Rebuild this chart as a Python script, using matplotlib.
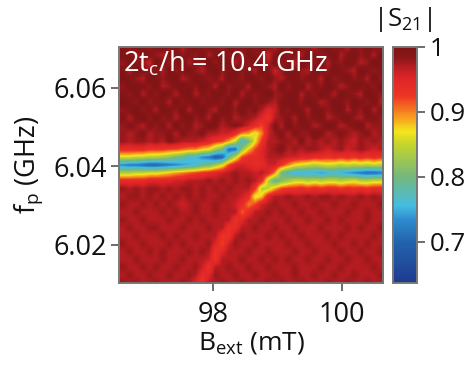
import numpy as np
import matplotlib
matplotlib.use("Agg")
import matplotlib.pyplot as plt
from matplotlib.colors import LinearSegmentedColormap

W, H = 477, 370
plt.rcParams['font.family'] = ['Open Sans', 'DejaVu Sans']

x_limits = [96.55, 100.63]
y_limits = [6.0103, 6.0704]
x_ticks = [98, 100]
y_ticks = [6.02, 6.04, 6.06]
y_tick_labels = ['6.02', '6.04', '6.06']
cbar_ticks = [0.7, 0.8, 0.9, 1.0]
cbar_tick_labels = ['0.7', '0.8', '0.9', '1']
v_limits = [0.636, 1.0]

# |S21| in hundredths, read row by row from the top of the plot (40 columns)
s21_rows = [
[99,98,100,99,98,99,100,98,99,97,99,100,98,99,99,97,100,98,99,99,98,100,99,97,99,98,100,99,98,97,99,100,98,99,97,99,98,100,99,98],
[100,99,97,100,99,98,97,99,100,98,99,98,100,97,99,100,98,99,97,100,99,98,96,99,100,98,99,97,100,99,98,99,100,97,99,100,98,99,97,100],
[98,100,99,98,96,100,99,98,99,100,97,99,98,100,98,99,100,97,99,98,100,99,97,100,98,99,97,100,99,98,100,97,99,98,100,99,97,98,100,99],
[99,97,100,99,98,99,97,100,98,99,100,98,97,99,100,98,99,100,98,99,97,100,99,96,98,100,99,98,97,100,99,98,100,99,98,97,100,99,98,99],
[100,99,98,97,100,99,98,99,100,97,98,100,99,98,99,97,100,99,98,100,99,98,100,98,97,99,100,98,99,99,97,100,98,99,100,98,99,97,100,98],
[98,100,99,99,98,100,97,98,99,100,99,98,100,99,97,100,98,99,99,97,100,99,98,97,100,98,99,100,97,99,98,100,99,97,98,100,99,99,98,100],
[99,98,100,97,99,98,100,99,97,99,100,97,99,98,100,99,98,100,97,99,98,99,100,98,98,99,100,97,99,98,100,99,97,100,99,98,97,100,99,98],
[100,99,98,100,98,99,99,97,100,98,99,100,98,99,99,98,100,97,99,100,98,99,98,97,99,100,99,98,100,99,97,98,100,99,98,100,99,98,100,97],
[98,99,100,98,99,97,100,99,98,100,97,99,100,98,97,100,99,98,100,98,99,97,95,96,99,98,100,99,97,100,99,98,99,100,97,99,98,100,97,99],
[99,97,99,100,98,100,98,99,97,99,100,98,99,97,100,98,99,97,98,98,97,95,93,97,98,99,97,100,98,99,100,97,98,99,100,98,97,99,99,98],
[98,99,98,97,99,98,99,97,100,98,99,97,98,100,99,97,98,99,98,96,94,92,96,99,97,100,98,99,99,97,98,100,99,97,98,99,100,97,98,98],
[98,97,98,99,97,98,98,99,97,99,98,98,99,97,97,96,96,94,90,89,86,90,96,98,99,97,99,98,98,100,99,97,98,99,98,97,98,99,97,98],
[98,97,98,98,97,98,97,99,98,97,97,97,96,95,93,92,89,85,75,80,87,93,97,97,98,98,97,99,97,98,97,98,97,98,97,96,98,97,98,97],
[94,94,94,94,93,93,93,92,92,91,90,90,88,87,83,80,71,71,82,88,92,95,97,98,99,97,98,97,98,98,97,96,97,98,96,97,98,97,96,97],
[86,86,85,85,84,84,83,82,80,79,76,76,73,72,69,70,79,85,92,94,94,95,97,97,97,96,96,95,95,94,94,93,94,93,94,93,94,93,94,93],
[73,72,72,71,70,70,71,72,73,74,75,76,79,80,83,86,92,95,96,95,94,94,96,96,93,90,87,86,85,84,85,86,85,84,85,84,85,84,85,84],
[84,84,85,85,86,86,87,88,89,90,91,92,93,94,95,96,97,98,97,97,96,97,95,90,80,77,75,75,75,75,74,75,76,75,74,73,72,71,71,72],
[94,94,94,94,95,95,95,95,96,96,97,97,97,98,97,98,97,98,97,98,97,94,84,78,81,83,85,85,84,85,84,85,85,84,85,86,84,84,85,85],
[98,97,98,97,98,98,97,98,97,98,98,97,98,97,98,97,98,97,97,97,93,84,85,89,92,93,93,94,93,94,93,94,94,93,94,93,94,93,94,94],
[97,98,98,97,98,97,98,97,98,97,98,97,98,97,97,98,97,97,96,94,86,88,95,97,97,98,97,97,98,97,98,98,97,98,97,97,98,97,98,97],
[98,97,97,98,97,98,97,98,97,96,97,98,97,97,98,97,97,96,94,90,92,96,97,98,97,97,98,97,97,98,97,97,98,97,97,98,97,97,97,98],
[97,97,98,97,97,97,98,97,98,97,97,98,97,97,98,97,97,97,91,94,97,97,98,97,98,97,97,98,97,97,98,97,97,97,98,97,97,98,97,97],
[98,97,97,98,97,97,97,98,97,97,98,97,98,97,97,97,97,93,95,97,97,98,97,97,97,98,97,97,98,97,97,98,97,98,97,97,97,98,97,97],
[97,98,97,97,98,98,97,97,97,98,97,97,97,98,97,97,93,94,97,97,98,97,97,98,97,97,98,97,97,97,98,97,97,97,98,97,98,97,97,98],
[97,97,98,97,97,97,98,97,98,97,97,98,97,97,97,93,93,97,98,97,97,97,98,97,98,97,97,98,97,97,97,98,97,98,97,97,97,97,98,97],
[98,97,97,98,97,97,97,98,97,98,97,97,97,98,95,92,96,98,97,97,98,97,97,97,97,98,97,97,98,97,97,97,98,97,97,98,97,98,97,97],
[97,98,97,97,98,97,98,97,97,97,98,97,98,97,93,95,97,97,97,98,97,97,98,97,97,97,98,97,97,98,97,97,97,98,97,97,98,97,97,98],
[97,97,98,97,97,97,98,97,97,98,97,97,97,96,93,97,97,97,98,97,97,98,97,98,97,98,97,97,98,97,97,98,97,97,98,97,97,98,97,97],
[98,97,97,98,97,98,97,97,98,97,97,98,96,93,97,97,98,97,97,98,97,97,98,97,97,97,98,97,97,97,98,97,97,98,97,97,97,97,98,97],
[97,98,97,97,98,97,97,98,97,97,98,97,94,95,98,97,97,98,97,97,98,97,97,98,97,97,98,97,97,98,97,97,98,97,97,98,97,97,97,98],
[98,97,98,97,97,98,97,97,97,98,97,95,93,97,97,98,97,97,98,97,97,97,98,97,98,97,97,98,97,97,97,98,97,97,98,97,97,98,97,97],
]

cmap_values = [0.636, 0.70, 0.735, 0.755, 0.80, 0.85, 0.87, 0.895, 0.925, 0.955, 0.972, 0.985, 1.0]
cmap_colors = ['#1f3a8f', '#2364ae', '#2f8fd0', '#45bde0', '#74b87c', '#c4d42c',
               '#f5e51c', '#f6921e', '#ee3424', '#dc2428', '#b01c20', '#8a1618', '#7e1416']

s21 = np.array(s21_rows) / 100.0
nodes = [(v - v_limits[0]) / (v_limits[1] - v_limits[0]) for v in cmap_values]
cmap = LinearSegmentedColormap.from_list('s21', list(zip(nodes, cmap_colors)), N=256)

fig = plt.figure(figsize=(W / 100, H / 100), dpi=100)
def box(l, t, r, b):
    return [l / W, 1 - b / H, (r - l) / W, (b - t) / H]

ax = fig.add_axes(box(119.5, 47, 383, 283))
n_rows = s21.shape[0]
row_step = (y_limits[1] - y_limits[0]) / (n_rows - 1)
im = ax.imshow(s21, cmap=cmap, vmin=v_limits[0], vmax=v_limits[1], aspect='auto',
               interpolation='bilinear', origin='upper',
               extent=[x_limits[0], x_limits[1],
                       y_limits[0] - row_step / 2, y_limits[1] + row_step / 2])
ax.set_xlim(x_limits)
ax.set_ylim(y_limits)
ax.set_xticks(x_ticks)
ax.set_yticks(y_ticks, y_tick_labels)
ax.tick_params(axis='both', labelsize=19.5, length=6, width=1.1, color='#444444', labelcolor='#111111', pad=3)
ax.tick_params(axis='x', pad=7)
ax.set_xlabel('B$_{\\mathregular{ext}}$ (mT)', fontsize=19, color='#111111', labelpad=1)
ax.set_ylabel('f$_{\\mathregular{p}}$ (GHz)', fontsize=19.5, color='#111111', labelpad=6)
ax.text(123 / W, 1 - 64 / H, '2t$_{\\mathregular{c}}$/h = 10.4 GHz', transform=fig.transFigure,
        color='white', fontsize=19.5, va='center', ha='left')

cax = fig.add_axes(box(393, 47, 417.5, 283))
cb = fig.colorbar(im, cax=cax)
cb.set_ticks(cbar_ticks, labels=cbar_tick_labels)
cb.ax.tick_params(labelsize=18.5, length=6, width=1.1, color='#444444', labelcolor='#111111', pad=3)
for a in (ax, cax):
    for s in a.spines.values():
        s.set_color('#777777')
        s.set_linewidth(1.4)
fig.text(403 / W, 1 - 20 / H, '|S$_{\\mathregular{21}}$|', fontsize=18.5, color='#111111', ha='center', va='center')
fig.savefig('out.png', dpi=100)
